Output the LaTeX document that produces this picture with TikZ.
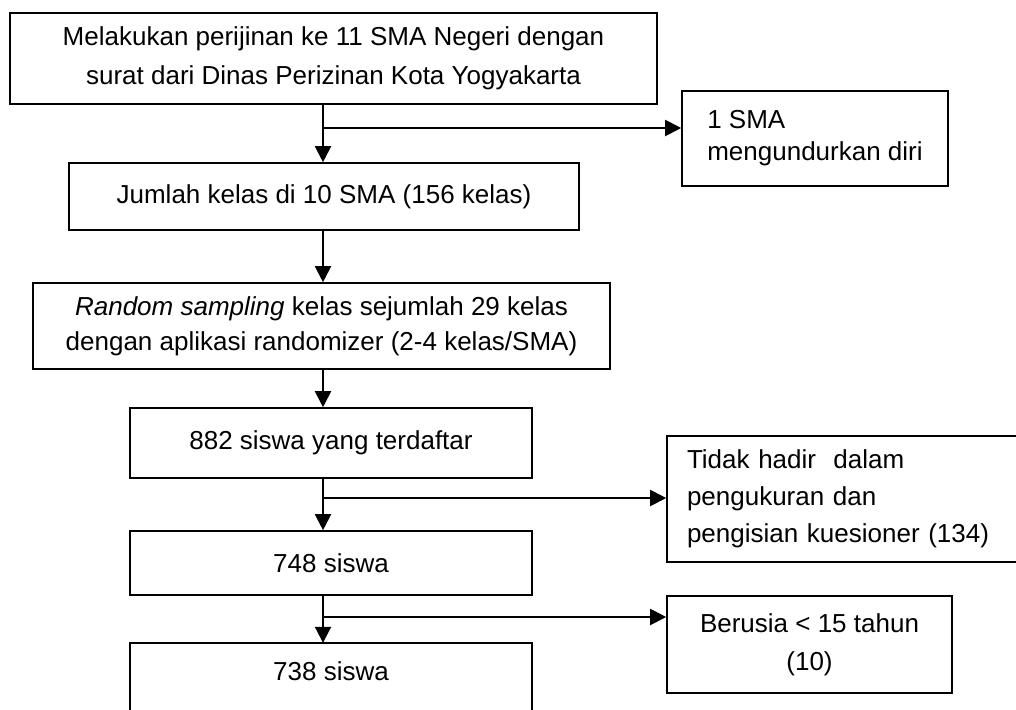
\documentclass[tikz,border=0pt]{standalone}
\usepackage{fontspec}
\setmainfont{Liberation Sans}
\usetikzlibrary{arrows.meta}
\begin{document}
\begin{tikzpicture}[x=1pt,y=-1pt,
  txt/.style={font=\fontsize{26}{38}\selectfont, text=black},
  box/.style={txt, draw, line width=1.6pt, inner sep=0pt, align=center},
  arr/.style={line width=2pt, -{Triangle[width=16pt,length=16pt]}}]
\useasboundingbox (0,0) rectangle (1016,709);
\clip (0,0) rectangle (1016,709);
\coordinate (sp) at (323,0);
\coordinate (bot) at (0,730);
\coordinate (j1) at (323,128);
\coordinate (j2) at (323,498);
\coordinate (j3) at (323,617);

\node[box, minimum width=647pt, minimum height=91pt, font=\fontsize{26}{39}\selectfont] (b1) at (333.5,58.5)
  {Melakukan perijinan ke 11 SMA Negeri dengan\\surat dari Dinas Perizinan Kota Yogyakarta};
\node[box, align=left, minimum width=266pt, minimum height=95pt, font=\fontsize{26}{32}\selectfont] (r1) at (815,138.5)
  {1 SMA\\mengundurkan diri};
\node[box, minimum width=510pt, minimum height=67pt] (b2) at (324,196.5)
  {Jumlah kelas di 10 SMA (156 kelas)};
\node[box, minimum width=577pt, minimum height=86pt, font=\fontsize{26}{35}\selectfont] (b3) at (321.5,326)
  {\textit{Random sampling} kelas sejumlah 29 kelas\\dengan aplikasi randomizer (2-4 kelas/SMA)};
\node[box, minimum width=402pt, minimum height=70pt] (b4) at (331,443)
  {882 siswa yang terdaftar};
\node[box, align=left, text width=313pt, minimum width=353pt, minimum height=126pt, font=\fontsize{26}{37}\selectfont] (r2) at (843.5,499)
  {Tidak hadir~ dalam\\pengukuran dan\\pengisian kuesioner (134)};
\node[box, minimum width=402pt, minimum height=64pt] (b5) at (331,563)
  {748 siswa};
\node[box, minimum width=285pt, minimum height=97pt] (r3) at (809.5,644.5)
  {Berusia < 15 tahun\\(10)};
\node[txt, inner sep=0pt, minimum width=402pt, minimum height=56pt] (b6) at (331,671)
  {738 siswa};
\draw[line width=1.6pt] (b6.north west |- bot) -- (b6.north west) -- (b6.north east) -- (b6.north east |- bot);

\draw[arr] (b1.south -| sp) -- (b2.north -| sp);
\draw[arr] (j1) -- (j1 -| r1.west);
\draw[arr] (b2.south -| sp) -- (b3.north -| sp);
\draw[arr] (b3.south -| sp) -- (b4.north -| sp);
\draw[arr] (b4.south -| sp) -- (b5.north -| sp);
\draw[arr] (j2) -- (j2 -| r2.west);
\draw[arr] (b5.south -| sp) -- (b6.north -| sp);
\draw[arr] (j3) -- (j3 -| r3.west);
\end{tikzpicture}
\end{document}
